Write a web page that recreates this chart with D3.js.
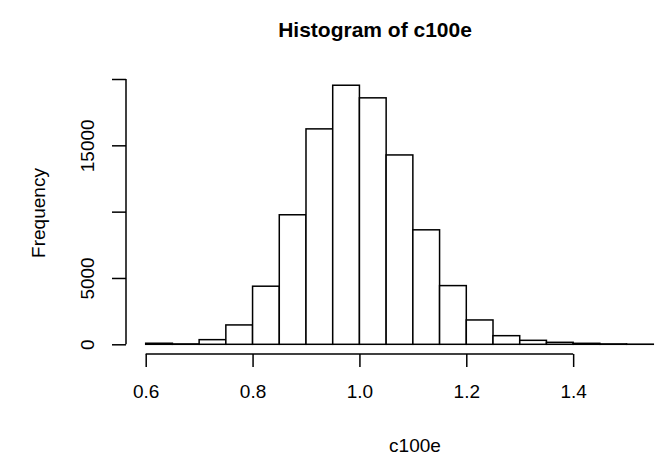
<!DOCTYPE html>
<html>
<head>
<meta charset="utf-8">
<script src="https://cdn.jsdelivr.net/npm/d3@7"></script>
<style>
  html, body { margin: 0; padding: 0; background: #fff; }
  svg { display: block; }
  text { font-family: "Liberation Sans", Arial, Helvetica, sans-serif; fill: #000; }
</style>
</head>
<body>
<svg id="chart" width="668" height="458"></svg>
<script>
// ---- data ----
const binStarts = [0.60,0.65,0.70,0.75,0.80,0.85,0.90,0.95,1.00,1.05,1.10,1.15,1.20,1.25,1.30,1.35,1.40,1.45,1.50];
const binWidth = 0.05;
const counts = [80,30,350,1460,4380,9765,16240,19530,18580,14275,8630,4425,1835,650,300,150,75,30,10];
const xTicks = [0.6,0.8,1.0,1.2,1.4];
const xTickLabels = ["0.6","0.8","1.0","1.2","1.4"];
const yTicks = [0,5000,10000,15000,20000];
const yTickLabels = ["0","5000","","15000",""];
const titleText = "Histogram of c100e";
const xLabel = "c100e";
const yLabel = "Frequency";

// ---- layout ----
const svg = d3.select("#chart");
const x = d3.scaleLinear().domain([0.6, 1.55]).range([145.7, 653.3]);
const y = d3.scaleLinear().domain([0, 20000]).range([344.3, 79]);
const xAxisY = 354;
const yAxisX = 126;
const fontSize = 19;
const sw = 1.5;

// bars
svg.append("g").selectAll("rect")
  .data(binStarts.map((s, i) => ({s, c: counts[i]})))
  .join("rect")
  .attr("x", d => x(d.s))
  .attr("y", d => y(d.c))
  .attr("width", d => x(d.s + binWidth) - x(d.s))
  .attr("height", d => y(0) - y(d.c))
  .attr("fill", "#fff")
  .attr("stroke", "#000")
  .attr("stroke-width", sw);

// x axis
const xAxis = d3.axisBottom(x)
  .tickValues(xTicks)
  .tickFormat((d, i) => xTickLabels[i])
  .tickSizeInner(13)
  .tickSizeOuter(0)
  .tickPadding(18);
const gx = svg.append("g").attr("transform", `translate(0,${xAxisY})`).call(xAxis);
gx.select(".domain").attr("d", `M${x(xTicks[0])},0H${x(xTicks[xTicks.length-1])}`)
  .attr("stroke", "#000").attr("stroke-width", sw);
gx.selectAll(".tick line").attr("stroke", "#000").attr("stroke-width", sw);
gx.selectAll(".tick text").attr("font-size", fontSize)
  .attr("font-family", "Liberation Sans, Arial, sans-serif");

// y axis
const yAxis = d3.axisLeft(y)
  .tickValues(yTicks)
  .tickFormat((d, i) => yTickLabels[i])
  .tickSizeInner(14)
  .tickSizeOuter(0)
  .tickPadding(0);
const gy = svg.append("g").attr("transform", `translate(${yAxisX},0)`).call(yAxis);
gy.select(".domain").attr("d", `M0,${y(yTicks[0])}V${y(yTicks[yTicks.length-1])}`)
  .attr("stroke", "#000").attr("stroke-width", sw);
gy.selectAll(".tick line").attr("stroke", "#000").attr("stroke-width", sw);
gy.selectAll(".tick text")
  .attr("font-size", fontSize)
  .attr("font-family", "Liberation Sans, Arial, sans-serif")
  .attr("x", null).attr("dy", null)
  .attr("text-anchor", "middle")
  .attr("transform", `translate(${94 - yAxisX},0) rotate(-90)`);

// titles
svg.append("text").attr("x", 375).attr("y", 37)
  .attr("text-anchor", "middle").attr("font-weight", "bold").attr("font-size", 21)
  .text(titleText);
svg.append("text").attr("x", 415).attr("y", 452)
  .attr("text-anchor", "middle").attr("font-size", fontSize)
  .text(xLabel);
svg.append("text")
  .attr("transform", `translate(45,213) rotate(-90)`)
  .attr("text-anchor", "middle").attr("font-size", fontSize)
  .text(yLabel);
</script>
</body>
</html>
